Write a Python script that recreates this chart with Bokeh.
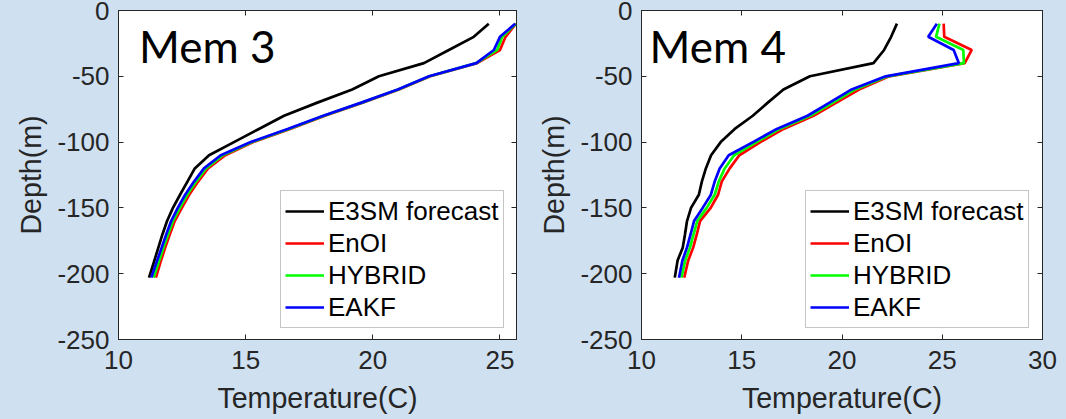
from bokeh.plotting import figure
from bokeh.models import (Range1d, FixedTicker, LinearAxis, Legend, LegendItem, Label,
                          PrintfTickFormatter)
from bokeh.layouts import row
from bokeh.embed import file_html
from bokeh.resources import INLINE

# ---------------- data ----------------
depth = [-10, -20, -30, -40, -50, -60, -70, -80, -90, -100,
         -110, -120, -130, -140, -150, -160, -170, -180, -190, -203]

mem3_e3sm = [24.56, 23.97, 22.99, 22.01, 20.24, 19.19, 17.82, 16.51, 15.52, 14.54,
             13.56, 13.00, 12.71, 12.42, 12.14, 11.91, 11.73, 11.57, 11.41, 11.20]
mem3_enoi = [25.63, 25.22, 25.00, 24.10, 22.26, 21.03, 19.60, 18.12, 16.75, 15.30,
             14.20, 13.52, 13.13, 12.78, 12.49, 12.21, 12.02, 11.84, 11.67, 11.47]
mem3_hybrid = [25.62, 25.09, 24.89, 24.07, 22.23, 21.00, 19.57, 18.08, 16.70, 15.25,
               14.10, 13.44, 13.05, 12.70, 12.41, 12.14, 11.95, 11.77, 11.60, 11.38]
mem3_eakf = [25.60, 25.00, 24.76, 24.07, 22.21, 20.98, 19.55, 18.05, 16.65, 15.20,
             14.02, 13.36, 12.97, 12.62, 12.33, 12.07, 11.88, 11.70, 11.52, 11.29]

mem4_e3sm = [22.74, 22.45, 22.10, 21.57, 18.40, 17.08, 16.30, 15.55, 14.65, 13.95,
             13.47, 13.21, 13.01, 12.86, 12.47, 12.27, 12.17, 12.06, 11.80, 11.66]
mem4_enoi = [25.07, 25.10, 26.47, 26.12, 22.35, 20.85, 19.72, 18.58, 17.09, 15.93,
             14.88, 14.40, 14.00, 13.82, 13.45, 12.92, 12.76, 12.58, 12.33, 12.13]
mem4_hybrid = [24.86, 24.69, 26.05, 26.08, 22.27, 20.65, 19.55, 18.41, 16.89, 15.73,
               14.62, 14.15, 13.85, 13.65, 13.25, 12.78, 12.60, 12.42, 12.18, 11.99]
mem4_eakf = [24.73, 24.30, 25.57, 25.83, 22.18, 20.48, 19.38, 18.28, 16.75, 15.56,
             14.35, 13.90, 13.65, 13.46, 13.05, 12.62, 12.45, 12.27, 12.04, 11.87]

series_names = ["E3SM forecast", "EnOI", "HYBRID", "EAKF"]
series_colors = ["#000000", "#ff0000", "#00ff00", "#0000ff"]
panel_titles = ["Mem 3", "Mem 4"]
x_ticks_mem3 = [10, 15, 20, 25]
x_ticks_mem4 = [10, 15, 20, 25, 30]
y_ticks = [0, -50, -100, -150, -200, -250]
x_label = "Temperature(C)"
y_label = "Depth(m)"

# ---------------- style ----------------
BG = "#cfe0f1"
AX = "#262626"
TICK_FONT = "Liberation Sans"
TITLE_FONT = "Lato"
FIG_W, FIG_H = 533, 419


def style_ticks(ax):
    ax.axis_line_color = AX
    ax.major_tick_line_color = AX
    ax.major_tick_in = 5
    ax.major_tick_out = 0
    ax.minor_tick_line_color = None
    ax.minor_tick_in = 0
    ax.minor_tick_out = 0


def make_panel(title, series, x_end, x_ticks, left, right, legend_xy, title_xy):
    p = figure(width=FIG_W, height=FIG_H, output_backend="svg", toolbar_location=None,
               title=None,
               x_range=Range1d(10, x_end), y_range=Range1d(-250, 0),
               min_border_left=left, min_border_right=right,
               min_border_top=10, min_border_bottom=80,
               background_fill_color="white", border_fill_color=BG,
               outline_line_color=AX, outline_line_width=1)
    p.grid.visible = False

    renderers = []
    for vals, col in zip(series, series_colors):
        r = p.line(vals, depth, line_color=col, line_width=2.7)
        renderers.append(r)

    for ax in (p.xaxis[0], p.yaxis[0]):
        style_ticks(ax)
        ax.formatter = PrintfTickFormatter(format="%d")
        ax.major_label_text_font = TICK_FONT
        ax.major_label_text_font_size = "26px"
        ax.major_label_text_color = AX
        ax.axis_label_text_font = TICK_FONT
        ax.axis_label_text_font_size = "28.6px"
        ax.axis_label_text_font_style = "normal"
        ax.axis_label_text_color = AX
    p.xaxis[0].ticker = FixedTicker(ticks=x_ticks)
    p.yaxis[0].ticker = FixedTicker(ticks=y_ticks)
    p.yaxis[0].axis_label = y_label
    p.yaxis[0].major_label_standoff = 9
    p.yaxis[0].axis_label_standoff = 7
    p.xaxis[0].axis_label = x_label
    p.xaxis[0].major_label_standoff = 11
    p.xaxis[0].axis_label_standoff = 10

    top = LinearAxis(ticker=FixedTicker(ticks=x_ticks))
    rgt = LinearAxis(ticker=FixedTicker(ticks=y_ticks))
    for ax in (top, rgt):
        style_ticks(ax)
        ax.major_label_text_font_size = "1px"
        ax.major_label_text_color = None
        ax.major_label_standoff = 0
    p.add_layout(top, "above")
    p.add_layout(rgt, "right")

    p.add_layout(Label(x=title_xy[0], y=title_xy[1], text=title,
                       text_font=TITLE_FONT, text_font_size="44px",
                       text_color="#000000", text_baseline="alphabetic"))

    legend = Legend(items=[LegendItem(label=n, renderers=[r])
                           for n, r in zip(series_names, renderers)],
                    location=legend_xy,
                    label_text_font=TICK_FONT, label_text_font_size="26px",
                    label_text_color="#000000",
                    glyph_width=39, glyph_height=32, label_height=32,
                    label_standoff=4, padding=4, spacing=0, margin=0,
                    border_line_color="#8c8c8c", border_line_width=1,
                    background_fill_color="white", background_fill_alpha=1)
    p.add_layout(legend, "center")
    return p


p1 = make_panel(panel_titles[0], [mem3_e3sm, mem3_enoi, mem3_hybrid, mem3_eakf],
                25.65, x_ticks_mem3, 118, 17, (162, 11), (10.81, -27.0))
p2 = make_panel(panel_titles[1], [mem4_e3sm, mem4_enoi, mem4_hybrid, mem4_eakf],
                30, x_ticks_mem4, 108, 24, (164, 11), (10.40, -27.0))

layout = row(p1, p2)
html = file_html(layout, INLINE)
html = html.replace("<head>", "<head><style>html,body{background-color:%s;}</style>" % BG, 1)
open("out.html", "w").write(html)
